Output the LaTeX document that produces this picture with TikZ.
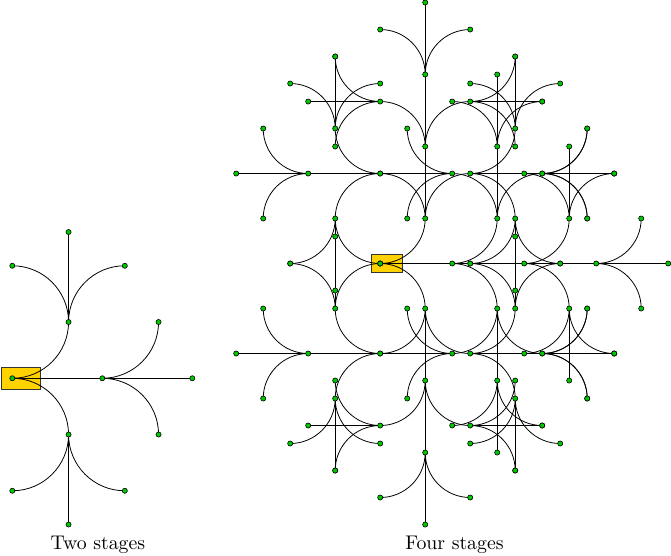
\documentclass[tikz,border=0pt]{standalone}
\pgfdeclarelayer{background}
\pgfsetlayers{background,main}

\definecolor{dotgreen}{RGB}{0,200,0}
\definecolor{rootyellow}{RGB}{255,210,0}

\newcommand\radius{1}
\newcommand\straight{1.6}
% one stage: straight, left and right child of node #1 (heading #2), #3 stages to go
\newcommand\branch[3]{%
  \ifnum#3>0 {%
    \pgfmathtruncatemacro\stagesleft{#3-1}%
    \pgfmathsetmacro\lefthead{#2+90}%
    \pgfmathsetmacro\righthead{#2-90}%
    \path (#1) ++(#2:\straight) node[dot] (#1s) {};
    \path (#1) ++(#2:\radius) ++(\lefthead:\radius) node[dot] (#1l) {};
    \path (#1) ++(#2:\radius) ++(\righthead:\radius) node[dot] (#1r) {};
    \begin{pgfonlayer}{background}
      \draw (#1.center) -- (#1s.center);
      \draw (#1.center) arc[start angle=\righthead, end angle=#2, radius=\radius];
      \draw (#1.center) arc[start angle=\lefthead, end angle=#2, radius=\radius];
    \end{pgfonlayer}
    \edef\nextstage{\noexpand\branch{#1s}{#2}{\stagesleft}%
      \noexpand\branch{#1l}{\lefthead}{\stagesleft}%
      \noexpand\branch{#1r}{\righthead}{\stagesleft}}%
    \nextstage
  }\fi}

\begin{document}
\begin{tikzpicture}[dot/.style={circle,draw=black,fill=dotgreen,inner sep=0pt,minimum size=2.6pt,line width=0.3pt},
    rootbox/.style={draw=black!80,fill=rootyellow}]
    \useasboundingbox (-0.219,-3.142) rectangle (11.710,6.725);
    % two stages
    \begin{scope}
        \begin{pgfonlayer}{background}
            \draw[rootbox] (-0.2,-0.2) rectangle (0.5,0.2);
        \end{pgfonlayer}
        \node[dot] (two) at (0,0) {};
        \branch{two}{0}{2}
    \end{scope}
    % four stages
    \begin{scope}[shift={(6.54cm,2.04cm)},x=0.8cm,y=0.8cm]
        \begin{pgfonlayer}{background}
            \draw[rootbox] (-0.2,-0.2) rectangle (0.5,0.2);
        \end{pgfonlayer}
        \node[dot] (four) at (0,0) {};
        \branch{four}{0}{4}
    \end{scope}
    \node[anchor=base] (twolabel) at (1.52,-3.04) {Two stages};
    \node[anchor=base] (fourlabel) at (7.86,-3.04) {Four stages};
\end{tikzpicture}
\end{document}
